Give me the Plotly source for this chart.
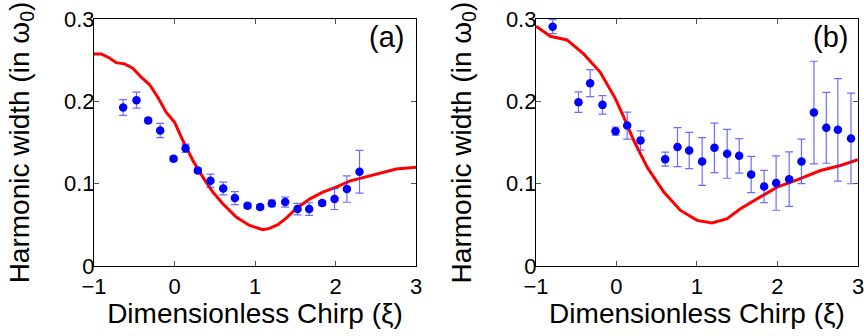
import plotly.graph_objects as go

# Panel (a) experimental data
a_x = [-0.638, -0.472, -0.327, -0.178, -0.012, 0.137, 0.290, 0.447, 0.605, 0.750,
       0.907, 1.064, 1.209, 1.375, 1.528, 1.673, 1.834, 1.988, 2.141, 2.298]
a_y = [0.1925, 0.2014, 0.1767, 0.1646, 0.1302, 0.1431, 0.1160, 0.1035, 0.0942, 0.0825,
       0.0732, 0.0716, 0.0760, 0.0776, 0.0691, 0.0691, 0.0764, 0.0813, 0.0934, 0.1144]
a_err = [0.0095, 0.0097, 0.003, 0.0087, 0.003, 0.005, 0.003, 0.008, 0.0077, 0.0079,
         0.003, 0.003, 0.004, 0.006, 0.007, 0.0077, 0.003, 0.0127, 0.016, 0.026]

# Panel (a) theory curve
a_line_x = [-1.0, -0.911, -0.807, -0.724, -0.621, -0.518, -0.414, -0.311, -0.207, -0.104,
            0.0, 0.104, 0.228, 0.352, 0.476, 0.600, 0.766, 0.932, 1.097, 1.180,
            1.284, 1.387, 1.511, 1.677, 1.843, 2.008, 2.174, 2.340, 2.547, 2.754, 3.0]
a_line_y = [0.2576, 0.2576, 0.2527, 0.2470, 0.2455, 0.2402, 0.2293, 0.2204, 0.2050, 0.1868,
            0.1747, 0.1524, 0.1282, 0.1080, 0.0898, 0.0756, 0.0594, 0.0493, 0.0441, 0.0457,
            0.0501, 0.0582, 0.0696, 0.0813, 0.0898, 0.0958, 0.1031, 0.1072, 0.1120, 0.1177, 0.1200]

# Panel (b) experimental data
b_x = [-0.793, -0.472, -0.327, -0.174, -0.012, 0.133, 0.298, 0.605, 0.758, 0.903,
       1.064, 1.217, 1.375, 1.524, 1.673, 1.834, 1.983, 2.145, 2.298, 2.453,
       2.606, 2.750, 2.913]
b_y = [0.2907, 0.1990, 0.2220, 0.1957, 0.1638, 0.1706, 0.1524, 0.1298, 0.1444, 0.1403,
       0.1270, 0.1435, 0.1363, 0.1338, 0.1112, 0.0966, 0.1007, 0.1055, 0.1270, 0.1864,
       0.1678, 0.1654, 0.1549]
b_err = [0.0085, 0.0125, 0.0164, 0.0113, 0.005, 0.0164, 0.0117, 0.0085, 0.0237, 0.022,
         0.029, 0.030, 0.0297, 0.021, 0.022, 0.0196, 0.033, 0.033, 0.027, 0.0623,
         0.043, 0.0623, 0.055]

# Panel (b) theory curve
b_line_x = [-1.0, -0.822, -0.615, -0.408, -0.201, -0.012, 0.091, 0.215, 0.381, 0.588,
            0.795, 1.002, 1.188, 1.375, 1.540, 1.747, 1.996, 2.244, 2.534, 2.783, 3.0]
b_line_y = [0.2912, 0.2790, 0.2746, 0.2576, 0.2353, 0.2030, 0.1808, 0.1524, 0.1201, 0.0898,
            0.0675, 0.0554, 0.0522, 0.0574, 0.0696, 0.0817, 0.0958, 0.1047, 0.1160, 0.1221, 0.1290]

x_ticks = [-1, 0, 1, 2, 3]
x_ticktext = ["\u22121", "0", "1", "2", "3"]
y_ticks = [0, 0.1, 0.2, 0.3]
y_ticktext = ["0", "0.1", "0.2", "0.3"]
panel_labels = ["(a)", "(b)"]

FONT = "Liberation Sans, Arial, sans-serif"
RED = "#ff0000"
BLUE = "#0000ff"
ERRC = "rgba(60,60,255,0.75)"

fig = go.Figure()

for (lx, ly, px, py, pe, xa, ya) in [
    (a_line_x, a_line_y, a_x, a_y, a_err, "x", "y"),
    (b_line_x, b_line_y, b_x, b_y, b_err, "x2", "y2"),
]:
    fig.add_trace(go.Scatter(x=lx, y=ly, mode="lines", line=dict(color=RED, width=3),
                             xaxis=xa, yaxis=ya, showlegend=False))
    fig.add_trace(go.Scatter(x=px, y=py, mode="markers",
                             marker=dict(color=BLUE, size=8.5),
                             error_y=dict(type="data", array=pe, visible=True,
                                          color=ERRC, thickness=1.2, width=4),
                             xaxis=xa, yaxis=ya, showlegend=False))

common_x = dict(range=[-1, 3], tickvals=x_ticks, ticktext=x_ticktext, automargin=False,
                ticks="inside", ticklen=5, tickcolor="#555", mirror="ticks",
                ticklabeloverflow="allow",
                showline=True, linecolor="black", linewidth=1.2, showgrid=False,
                zeroline=False, tickfont=dict(family=FONT, size=22, color="black"),
                title=dict(text="Dimensionless Chirp (\u03be)", standoff=4,
                           font=dict(family=FONT, size=28, color="black")))
common_y = dict(range=[0, 0.3], tickvals=y_ticks, ticktext=y_ticktext, automargin=False,
                ticks="inside", ticklen=5, tickcolor="#555", mirror="ticks",
                ticklabelstandoff=-6, ticklabeloverflow="allow",
                showline=True, linecolor="black", linewidth=1.2, showgrid=False,
                zeroline=False, tickfont=dict(family=FONT, size=22, color="black"),
                title=dict(text="Harmonic width (in \u03c9<sub>0</sub>)", standoff=26,
                           font=dict(family=FONT, size=28, color="black")))

fig.update_layout(
    width=864, height=336,
    margin=dict(l=94, r=6, t=19, b=70, autoexpand=False),
    paper_bgcolor="white", plot_bgcolor="white",
    xaxis=dict(domain=[0.0, 0.4215], anchor="y", **common_x),
    yaxis=dict(domain=[0, 1], anchor="x", **common_y),
    xaxis2=dict(domain=[0.5785, 1.0], anchor="y2", **common_x),
    yaxis2=dict(domain=[0, 1], anchor="x2", **common_y),
    annotations=[
        dict(text=panel_labels[0], x=0.97, y=1.0, xref="x domain", yref="y domain",
             xanchor="right", yanchor="top", showarrow=False,
             font=dict(family=FONT, size=29, color="black")),
        dict(text=panel_labels[1], x=0.975, y=1.0, xref="x2 domain", yref="y2 domain",
             xanchor="right", yanchor="top", showarrow=False,
             font=dict(family=FONT, size=29, color="black")),
    ],
)

fig.write_html("out.html")
